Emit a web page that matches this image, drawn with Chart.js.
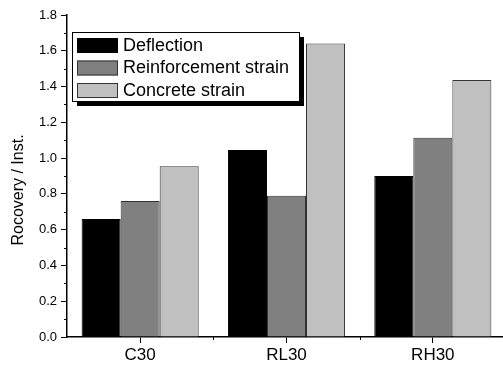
<!DOCTYPE html>
<html>
<head>
<meta charset="utf-8">
<script src="https://cdn.jsdelivr.net/npm/chart.js@4"></script>
<style>
  html, body { margin: 0; padding: 0; background: #fff; overflow: hidden; }
  #wrap { width: 506px; height: 370px; }
</style>
</head>
<body>
<div id="wrap"><canvas id="chart" width="506" height="370"></canvas></div>
<script>
const categories = ["C30", "RL30", "RH30"];
const deflection = [0.66, 1.045, 0.90];
const reinforcementStrain = [0.76, 0.79, 1.114];
const concreteStrain = [0.955, 1.64, 1.437];
const yTicks = [0, 0.2, 0.4, 0.6, 0.8, 1.0, 1.2, 1.4, 1.6, 1.8];

const FONT = "'Liberation Sans', Arial, sans-serif";

// minor ticks, legend box with shadow and the y title
const extras = {
  id: "extras",
  afterDraw(chart) {
    const ctx = chart.ctx;
    const x = chart.scales.x;
    const y = chart.scales.y;
    ctx.save();
    ctx.strokeStyle = "#000";
    ctx.lineWidth = 1;

    // y minor ticks
    for (let i = 0; i < yTicks.length - 1; i++) {
      const py = Math.round(y.getPixelForValue((yTicks[i] + yTicks[i + 1]) / 2)) + 0.5;
      ctx.beginPath();
      ctx.moveTo(x.left - 3, py);
      ctx.lineTo(x.left, py);
      ctx.stroke();
    }
    // x minor ticks between categories
    for (let i = 0; i < categories.length - 1; i++) {
      const px = Math.round((x.getPixelForValue(i) + x.getPixelForValue(i + 1)) / 2) + 0.5;
      ctx.beginPath();
      ctx.moveTo(px, y.bottom);
      ctx.lineTo(px, y.bottom + 3);
      ctx.stroke();
    }

    // y title
    ctx.fillStyle = "#000";
    ctx.font = "16px " + FONT;
    ctx.textAlign = "center";
    ctx.textBaseline = "middle";
    ctx.translate(19, 190);
    ctx.rotate(-Math.PI / 2);
    ctx.fillText("Rocovery / Inst.", 0, 0);
    ctx.setTransform(1, 0, 0, 1, 0, 0);

    // legend
    const bx = 72, by = 32, bw = 227, bh = 69;
    ctx.fillStyle = "#000";
    ctx.fillRect(bx + 5, by + 5, bw, bh);
    ctx.fillStyle = "#fff";
    ctx.fillRect(bx, by, bw, bh);
    ctx.strokeRect(bx + 0.5, by + 0.5, bw, bh);
    ctx.font = "18px " + FONT;
    ctx.textAlign = "left";
    chart.data.datasets.forEach((ds, i) => {
      const cy = by + 13 + i * 22.5;
      ctx.fillStyle = ds.backgroundColor;
      ctx.fillRect(bx + 5, cy - 7, 41, 15);
      ctx.strokeStyle = ds.borderColor;
      ctx.strokeRect(bx + 5.5, cy - 6.5, 40, 14);
      ctx.fillStyle = "#000";
      ctx.fillText(ds.label, bx + 51, cy + 1);
    });
    ctx.restore();
  }
};

new Chart(document.getElementById("chart"), {
  type: "bar",
  data: {
    labels: categories,
    datasets: [
      { label: "Deflection", data: deflection, backgroundColor: "#000000", borderColor: "#000000", borderWidth: 1 },
      { label: "Reinforcement strain", data: reinforcementStrain, backgroundColor: "#808080", borderColor: "#333333", borderWidth: 1 },
      { label: "Concrete strain", data: concreteStrain, backgroundColor: "#c0c0c0", borderColor: "#333333", borderWidth: 1 },
    ],
  },
  options: {
    responsive: false,
    animation: false,
    layout: { padding: { top: 15, right: 0, left: 0, bottom: 0 } },
    plugins: { legend: { display: false }, tooltip: { enabled: false } },
    datasets: { bar: { categoryPercentage: 0.8, barPercentage: 1.0 } },
    scales: {
      x: {
        grid: { offset: false, drawOnChartArea: false, tickLength: 6, color: "#000" },
        border: { color: "#000", width: 1.5 },
        ticks: { color: "#000", font: { size: 17, family: FONT }, padding: 2 },
        afterFit(scale) { scale.height = 33; },
      },
      y: {
        min: 0,
        max: 1.8,
        grid: { drawOnChartArea: false, tickLength: 6, color: "#000" },
        border: { color: "#000", width: 1.5 },
        ticks: {
          stepSize: 0.2,
          color: "#000",
          font: { size: 13, family: FONT },
          padding: 4,
          callback: (v) => v.toFixed(1),
        },
        afterFit(scale) { scale.width = 67; },
      },
    },
  },
  plugins: [extras],
});
</script>
</body>
</html>
